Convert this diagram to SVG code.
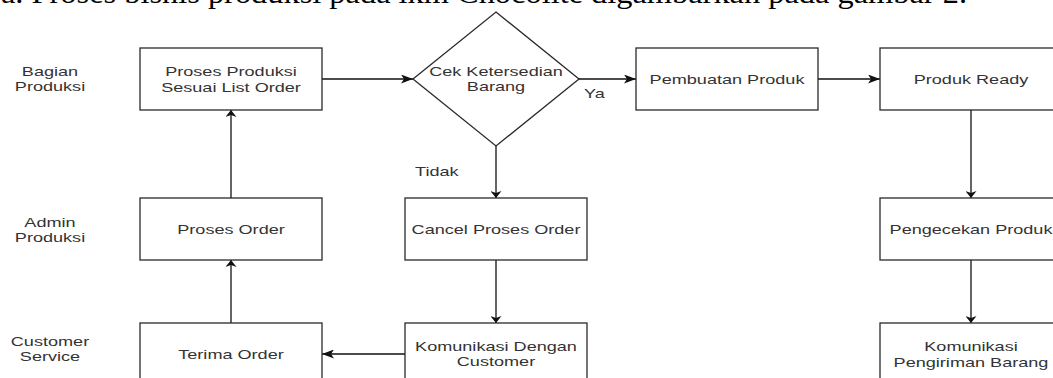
<svg xmlns="http://www.w3.org/2000/svg" width="1053" height="378" viewBox="0 0 1053 378">
<style>
.box{fill:#fff;stroke:#2a2a2a;stroke-width:1.3}
.t{font-family:"Liberation Sans",Arial,sans-serif;font-size:12.4px;fill:#333;text-anchor:middle}
.ts{font-family:"Liberation Sans",Arial,sans-serif;font-size:12.4px;fill:#333;text-anchor:start}
.ln{fill:none;stroke:#111;stroke-width:1.3}
.h{marker-end:url(#ah)}
.v{marker-end:url(#av)}
.cap{font-family:"Liberation Serif","Times New Roman",serif;font-size:30px;fill:#000}
</style>
<defs>
<marker id="ah" viewBox="0 0 12 9" refX="12" refY="4.5" markerWidth="12" markerHeight="9" markerUnits="userSpaceOnUse" orient="auto">
<path d="M0,0 L12,4.5 L0,9 L3,4.5 Z" fill="#111"/>
</marker>
<marker id="av" viewBox="0 0 7 11" refX="7" refY="5.5" markerWidth="7" markerHeight="11" markerUnits="userSpaceOnUse" orient="auto">
<path d="M0,0 L7,5.5 L0,11 L2,5.5 Z" fill="#111"/>
</marker>
</defs>
<rect width="1053" height="378" fill="#fff"/>
<text class="cap" x="1" y="2.5" textLength="966" lengthAdjust="spacingAndGlyphs">a. Proses bisnis produksi pada ikm Chocolite digambarkan pada gambar 2.</text>

<g id="lanes">
<text class="t" transform="translate(50 76) scale(1.46 1)">Bagian</text>
<text class="t" transform="translate(50 91) scale(1.46 1)">Produksi</text>
<text class="t" transform="translate(50 227) scale(1.46 1)">Admin</text>
<text class="t" transform="translate(50 242) scale(1.46 1)">Produksi</text>
<text class="t" transform="translate(50 346) scale(1.46 1)">Customer</text>
<text class="t" transform="translate(50 361) scale(1.46 1)">Service</text>
</g>

<g id="connectors">
<line class="ln h" x1="322" y1="79" x2="413" y2="79"/>
<line class="ln h" x1="579" y1="79" x2="636" y2="79"/>
<line class="ln h" x1="818" y1="79" x2="880" y2="79"/>
<line class="ln v" x1="971" y1="110" x2="971" y2="198"/>
<line class="ln v" x1="971" y1="260" x2="971" y2="323"/>
<line class="ln v" x1="496" y1="146" x2="496" y2="198"/>
<line class="ln v" x1="496" y1="260" x2="496" y2="323"/>
<line class="ln h" x1="405" y1="354" x2="322" y2="354"/>
<line class="ln v" x1="231" y1="323" x2="231" y2="260"/>
<line class="ln v" x1="231" y1="198" x2="231" y2="110"/>
<text class="ts" transform="translate(584 98) scale(1.46 1)">Ya</text>
<text class="ts" transform="translate(415 176) scale(1.46 1)">Tidak</text>
</g>

<g id="proses-produksi">
<rect class="box" x="140" y="48" width="182" height="62"/>
<text class="t" transform="translate(231 76) scale(1.46 1)">Proses Produksi</text>
<text class="t" transform="translate(231 91.5) scale(1.46 1)">Sesuai List Order</text>
</g>
<g id="cek-ketersediaan">
<polygon class="box" points="496,12 579,79 496,146 413,79"/>
<text class="t" transform="translate(496 76) scale(1.46 1)">Cek Ketersedian</text>
<text class="t" transform="translate(496 91) scale(1.46 1)">Barang</text>
</g>
<g id="pembuatan-produk">
<rect class="box" x="636" y="48" width="182" height="62"/>
<text class="t" transform="translate(727 83.5) scale(1.46 1)">Pembuatan Produk</text>
</g>
<g id="produk-ready">
<rect class="box" x="880" y="48" width="182" height="62"/>
<text class="t" transform="translate(971 83.5) scale(1.46 1)">Produk Ready</text>
</g>
<g id="pengecekan-produk">
<rect class="box" x="880" y="198" width="182" height="62"/>
<text class="t" transform="translate(971 233.5) scale(1.46 1)">Pengecekan Produk</text>
</g>
<g id="komunikasi-pengiriman">
<rect class="box" x="880" y="323" width="182" height="62"/>
<text class="t" transform="translate(971 351) scale(1.46 1)">Komunikasi</text>
<text class="t" transform="translate(971 366.5) scale(1.46 1)">Pengiriman Barang</text>
</g>
<g id="proses-order">
<rect class="box" x="140" y="198" width="182" height="62"/>
<text class="t" transform="translate(231 233.5) scale(1.46 1)">Proses Order</text>
</g>
<g id="cancel-proses-order">
<rect class="box" x="405" y="198" width="182" height="62"/>
<text class="t" transform="translate(496 233.5) scale(1.46 1)">Cancel Proses Order</text>
</g>
<g id="komunikasi-customer">
<rect class="box" x="405" y="323" width="182" height="62"/>
<text class="t" transform="translate(496 350.5) scale(1.46 1)">Komunikasi Dengan</text>
<text class="t" transform="translate(496 366) scale(1.46 1)">Customer</text>
</g>
<g id="terima-order">
<rect class="box" x="140" y="323" width="182" height="62"/>
<text class="t" transform="translate(231 358.5) scale(1.46 1)">Terima Order</text>
</g>
</svg>
